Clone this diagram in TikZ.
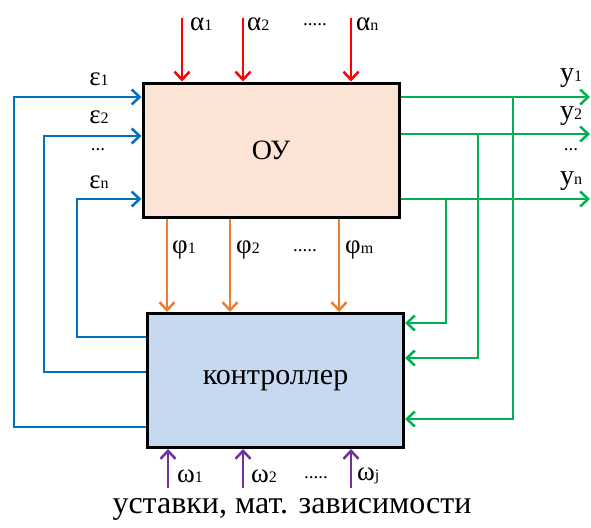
\documentclass[tikz,border=0pt]{standalone}
\usepackage{fontspec}
\setmainfont{Liberation Serif}
\usetikzlibrary{arrows.meta,positioning,calc}

\definecolor{ouFill}{RGB}{251,228,213}
\definecolor{ctrlFill}{RGB}{198,217,240}
\definecolor{sigBlue}{RGB}{0,112,192}
\definecolor{sigGreen}{RGB}{0,176,80}
\definecolor{sigOrange}{RGB}{237,125,49}
\definecolor{sigPurple}{RGB}{112,48,160}
\definecolor{sigRed}{RGB}{255,0,0}

% буква с маленьким индексом
\newcommand{\sig}[2]{#1{\fontsize{16}{16}\selectfont #2}}

\begin{document}
\begin{tikzpicture}[
            x=1pt, y=-1pt,
            font=\fontsize{27}{29}\selectfont,
            block/.style={rectangle, draw=black, line width=3pt, minimum width=256pt, minimum height=134pt},
            arrow/.style={line width=2.5pt, -{Straight Barb[length=8pt,width=15pt,line width=2.5pt]}},
            lbl/.style={inner sep=0pt, anchor=west},
            dots/.style={inner sep=0pt, font=\fontsize{19}{19}\selectfont}
        ]
        \useasboundingbox (0,0) rectangle (591,527);

        % Блоки
        \node (ou) [block, fill=ouFill, font=\fontsize{28}{30}\selectfont] at (271,150) {ОУ};
        \node (ctrl) [block, fill=ctrlFill, font=\fontsize{30}{32}\selectfont] at (275.5,380.5) {контроллер};

        % Возмущения альфа
        \coordinate (a1) at (182,18);
        \coordinate (a2) at (243,18);
        \coordinate (an) at (351,18);
        \node (la1) [lbl] at (190,24) {\sig{α}{1}};
        \node (la2) [lbl] at (247,24) {\sig{α}{2}};
        \node (ladots) [dots] at (315,25) {.....};
        \node (lan) [lbl] at (356,24) {\sig{α}{n}};
        \foreach \c in {a1,a2,an}
            \draw [arrow, sigRed] (\c) -- (\c |- ou.north);

        % Сигналы фи
        \node (lp1) [lbl] at (172,250) {\sig{φ}{1}};
        \node (lp2) [lbl] at (236,250) {\sig{φ}{2}};
        \node (lpdots) [dots] at (305,251) {.....};
        \node (lpm) [lbl] at (345,250) {\sig{φ}{m}};
        \foreach \x in {167,230,339}
            \draw [arrow, sigOrange] (ou.south -| \x,0) -- (ctrl.north -| \x,0);

        % Уставки омега
        \coordinate (w1) at (168,488);
        \coordinate (w2) at (243,488);
        \coordinate (wj) at (351,488);
        \node (lw1) [lbl] at (177,476) {\sig{ω}{1}};
        \node (lw2) [lbl] at (251,476) {\sig{ω}{2}};
        \node (lwdots) [dots] at (316,478) {.....};
        \node (lwj) [lbl] at (357,476) {\sig{ω}{j}};
        \foreach \c in {w1,w2,wj}
            \draw [arrow, sigPurple] (\c) -- (\c |- ctrl.south);
        \node (setp) [font=\fontsize{32}{34}\selectfont] at (292,509) {уставки, мат. зависимости};

        % Управляющие воздействия эпсилон
        \coordinate (e1) at (14,97);
        \coordinate (e2) at (44,136);
        \coordinate (en) at (77,199);
        \node (le1) at (99,79) {\sig{ε}{1}};
        \node (le2) at (99,117) {\sig{ε}{2}};
        \node (ledots) [dots] at (98,150) {...};
        \node (len) at (99,182) {\sig{ε}{n}};
        \draw [arrow, sigBlue] (ctrl.west |- 0,427) -| (e1) -- (e1 -| ou.west);
        \draw [arrow, sigBlue] (ctrl.west |- 0,372) -| (e2) -- (e2 -| ou.west);
        \draw [arrow, sigBlue] (ctrl.west |- 0,337) -| (en) -- (en -| ou.west);

        % Выходы y
        \coordinate (y1) at (590,97);
        \coordinate (y2) at (590,134);
        \coordinate (yn) at (590,199);
        \node (ly1) [font=\fontsize{28}{30}\selectfont] at (571,78) {\sig{y}{1}};
        \node (ly2) [font=\fontsize{28}{30}\selectfont] at (571,116) {\sig{y}{2}};
        \node (lydots) [dots] at (571,150) {...};
        \node (lyn) [font=\fontsize{28}{30}\selectfont] at (571,181) {\sig{y}{n}};
        \draw [arrow, sigGreen] (ou.east |- y1) -- (y1);
        \draw [arrow, sigGreen] (ou.east |- y2) -- (y2);
        \draw [arrow, sigGreen] (ou.east |- yn) -- (yn);

        % Обратная связь на контроллер
        \draw [arrow, sigGreen] (y1 -| 513,0) |- (ctrl.east |- 0,419);
        \draw [arrow, sigGreen] (y2 -| 478,0) |- (ctrl.east |- 0,358);
        \draw [arrow, sigGreen] (yn -| 446,0) |- (ctrl.east |- 0,323);

    \end{tikzpicture}
\end{document}
